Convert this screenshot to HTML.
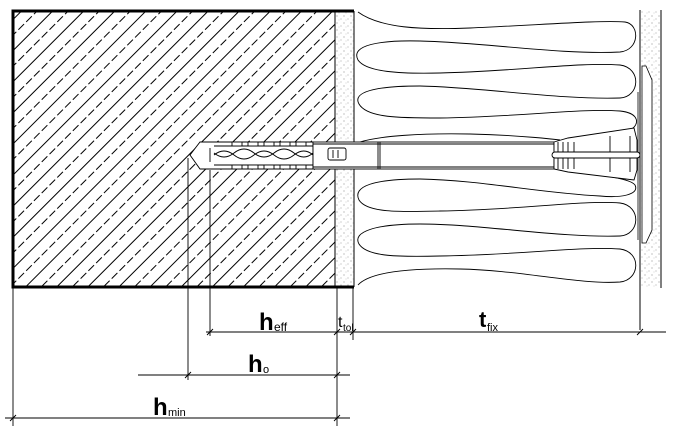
<!DOCTYPE html>
<html><head><meta charset="utf-8"><style>
html,body{margin:0;padding:0;background:#fff;}
svg{display:block;}
text{font-family:"Liberation Sans",sans-serif;fill:#000;}
</style></head><body>
<svg width="682" height="426" viewBox="0 0 682 426" xmlns="http://www.w3.org/2000/svg">
<defs>
<pattern id="hat" patternUnits="userSpaceOnUse" width="22" height="22" patternTransform="rotate(45)">
<line x1="1" y1="0" x2="1" y2="22" stroke="#000" stroke-width="1"/>
<line x1="12" y1="0" x2="12" y2="22" stroke="#000" stroke-width="1" stroke-dasharray="8,3"/>
</pattern>
<pattern id="dots" patternUnits="userSpaceOnUse" width="7" height="7">
<circle cx="1" cy="2" r="0.5" fill="#666"/><circle cx="5" cy="5" r="0.5" fill="#888"/><circle cx="3" cy="6" r="0.4" fill="#999"/>
</pattern>
</defs>
<rect x="13" y="11" width="322" height="276" fill="url(#hat)"/>
<rect x="335" y="11" width="19" height="276" fill="url(#dots)"/>
<line x1="335" y1="11" x2="335" y2="287" stroke="#000" stroke-width="1"/>
<line x1="354" y1="11" x2="354" y2="287" stroke="#000" stroke-width="1"/>
<path d="M354,11 H13 V287 H354" fill="none" stroke="#000" stroke-width="3"/>
<rect x="640" y="10" width="21" height="278" fill="url(#dots)"/>
<line x1="640" y1="10" x2="640" y2="330" stroke="#000" stroke-width="1"/>
<line x1="661" y1="10" x2="661" y2="288" stroke="#000" stroke-width="1"/>
<path d="M642,66 L646,66 L652,80 L652,230 L646,243 L642,243 Z" fill="#fff" stroke="#000" stroke-width="0.8"/>
<line x1="638" y1="92" x2="638" y2="240" stroke="#000" stroke-width="0.8"/>
<g fill="none" stroke="#000" stroke-width="0.9">
<path d="M358,12 C380,28 420,30 470,28 C540,25 600,20 625,22 C640,24 640,50 620,52 C560,55 480,42 420,41 C380,40 350,45 358,60 C366,72 400,74 440,73 C520,71 580,62 620,65 C642,68 640,97 620,98 C560,100 480,87 420,86 C375,86 352,92 359,104 C367,118 400,118 440,118 C520,117 580,108 620,111 C640,113 640,125 630,130"/>
<path d="M360,142 C380,136 420,133 470,134 C520,135 560,140 560,140"/>
<path d="M560,170 C600,175 630,178 635,185 C640,195 620,198 600,196 C540,193 480,180 420,179 C375,179 352,186 359,200 C367,213 400,212 440,211 C520,210 580,200 620,203 C642,206 640,235 620,236 C560,238 480,224 420,224 C375,224 352,232 359,244 C367,257 400,257 440,256 C520,255 580,246 620,249 C642,252 640,280 620,282 C580,285 520,270 460,269 C410,268 370,272 358,285"/>
</g>
<g fill="#fff" stroke="#000" stroke-width="0.9">
<path d="M200,142 L313,142 L313,169 L200,169 L190,155 Z"/>
<rect x="313" y="142" width="241" height="27"/>
<line x1="313" y1="144" x2="554" y2="144"/>
<line x1="313" y1="167" x2="554" y2="167"/>
<line x1="378" y1="142" x2="378" y2="169"/>
<line x1="380" y1="142" x2="380" y2="169"/>
<rect x="328" y="148" width="18" height="12" rx="2"/>
<line x1="333" y1="150" x2="333" y2="158"/><line x1="338" y1="150" x2="338" y2="158"/>
<path d="M214,146 L313,146 M214,165 L313,165 M210,148 L210,162"/>
<path d="M214,155 Q224,147 234,155 T254,155 T274,155 T294,155 T313,155" fill="none"/>
<path d="M214,153 Q224,161 234,153 T254,153 T274,153 T294,153 T313,153" fill="none"/>
<rect x="232" y="142" width="10" height="4"/><rect x="248" y="142" width="10" height="4"/><rect x="264" y="142" width="10" height="4"/><rect x="280" y="142" width="10" height="4"/><rect x="296" y="142" width="10" height="4"/>
<rect x="232" y="165" width="10" height="4"/><rect x="248" y="165" width="10" height="4"/><rect x="264" y="165" width="10" height="4"/><rect x="280" y="165" width="10" height="4"/><rect x="296" y="165" width="10" height="4"/>
<path d="M554,142 L568,138 L634,128 L637,140 L637,170 L634,180 L568,172 L554,169 Z"/>
<line x1="558" y1="142" x2="558" y2="169"/><line x1="563" y1="142" x2="563" y2="169"/><line x1="568" y1="142" x2="568" y2="169"/><line x1="574" y1="142" x2="574" y2="169"/>
<line x1="610" y1="136" x2="610" y2="172"/><line x1="630" y1="136" x2="630" y2="172"/>
<rect x="552" y="152" width="88" height="6" rx="3"/>
</g>
<g stroke="#000" stroke-width="0.9" fill="none">
<line x1="13" y1="287" x2="13" y2="426"/>
<line x1="337" y1="287" x2="337" y2="426"/>
<line x1="353" y1="287" x2="353" y2="340"/>
<line x1="210" y1="170" x2="210" y2="336"/>
<line x1="188" y1="158" x2="188" y2="380"/>
<line x1="206" y1="332" x2="666" y2="332"/>
<line x1="138" y1="375" x2="350" y2="375"/>
<line x1="5" y1="418" x2="350" y2="418"/>
<path d="M207,335 L213,329 M334,335 L340,329 M350,335 L356,329 M637,335 L643,329 M185,378 L191,372 M334,378 L340,372 M10,421 L16,415 M334,421 L340,415"/>
</g>
<text x="259" y="330" font-size="24" font-weight="bold">h</text>
<text x="274" y="331" font-size="12">eff</text>
<text x="338" y="327" font-size="16">t</text>
<text x="343" y="331" font-size="10">tol</text>
<text x="479" y="327" font-size="22" font-weight="bold">t</text>
<text x="487" y="331" font-size="11">fix</text>
<text x="248" y="372" font-size="24" font-weight="bold">h</text>
<text x="263" y="373" font-size="11">o</text>
<text x="153" y="415" font-size="24" font-weight="bold">h</text>
<text x="168" y="416" font-size="11">min</text>
</svg>
</body></html>
